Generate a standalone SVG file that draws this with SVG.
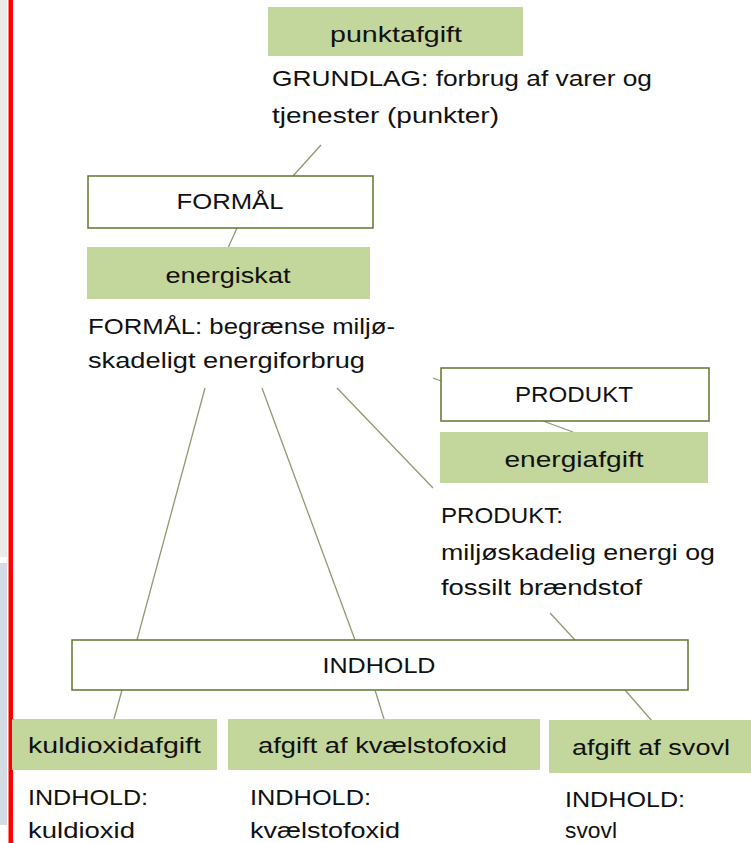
<svg xmlns="http://www.w3.org/2000/svg" width="751" height="843" viewBox="0 0 751 843">
<style>
  text { font-family: "Liberation Sans", Arial, sans-serif; font-size: 22px; fill: #111111; }
  .c { text-anchor: middle; }
  .green { fill: #c3d69b; stroke: none; }
  .white { fill: #ffffff; stroke: #5f7530; stroke-width: 1.5; }
  .conn line { stroke: #8e9a72; stroke-width: 1.3; }
</style>
<rect x="0" y="0" width="751" height="843" fill="#ffffff"/>
<rect x="0" y="0" width="7" height="557" fill="#ebebeb"/>
<rect x="0" y="563" width="7" height="262" fill="#d3dbe5"/>
<rect x="8.5" y="0" width="4.5" height="843" fill="#ff0000"/>

<g id="connectors" class="conn">
  <line x1="321" y1="145" x2="293" y2="176"/>
  <line x1="237" y1="228" x2="228" y2="248"/>
  <line x1="205" y1="388" x2="137" y2="640"/>
  <line x1="262" y1="388" x2="355" y2="640"/>
  <line x1="337" y1="388" x2="433" y2="488"/>
  <line x1="433" y1="378" x2="441" y2="381"/>
  <line x1="543" y1="421" x2="573" y2="432"/>
  <line x1="550" y1="613" x2="575" y2="640"/>
  <line x1="122" y1="690" x2="114" y2="719"/>
  <line x1="375" y1="690" x2="384" y2="719"/>
  <line x1="625" y1="690" x2="652" y2="721"/>
</g>

<g id="punktafgift">
  <rect class="green" x="268" y="7" width="255" height="49"/>
  <text class="c" x="396" y="42" textLength="132" lengthAdjust="spacingAndGlyphs">punktafgift</text>
</g>
<g id="grundlag-text">
  <text x="272" y="86" textLength="380" lengthAdjust="spacingAndGlyphs">GRUNDLAG: forbrug af varer og</text>
  <text x="272" y="123" textLength="227" lengthAdjust="spacingAndGlyphs">tjenester (punkter)</text>
</g>
<g id="formaal">
  <rect class="white" x="88" y="176" width="285" height="52"/>
  <text class="c" x="230" y="209" textLength="107" lengthAdjust="spacingAndGlyphs">FORMÅL</text>
</g>
<g id="energiskat">
  <rect class="green" x="87" y="247" width="283" height="52"/>
  <text class="c" x="228" y="283" textLength="125" lengthAdjust="spacingAndGlyphs">energiskat</text>
</g>
<g id="formaal-text">
  <text x="88" y="334" textLength="307" lengthAdjust="spacingAndGlyphs">FORMÅL: begrænse miljø-</text>
  <text x="88" y="368" textLength="277" lengthAdjust="spacingAndGlyphs">skadeligt energiforbrug</text>
</g>
<g id="produkt">
  <rect class="white" x="441" y="368" width="268" height="53"/>
  <text class="c" x="574" y="402" textLength="118" lengthAdjust="spacingAndGlyphs">PRODUKT</text>
</g>
<g id="energiafgift">
  <rect class="green" x="440" y="432" width="268" height="51"/>
  <text class="c" x="574" y="467" textLength="139" lengthAdjust="spacingAndGlyphs">energiafgift</text>
</g>
<g id="produkt-text">
  <text x="441" y="523" textLength="122" lengthAdjust="spacingAndGlyphs">PRODUKT:</text>
  <text x="441" y="560" textLength="274" lengthAdjust="spacingAndGlyphs">miljøskadelig energi og</text>
  <text x="441" y="595" textLength="201" lengthAdjust="spacingAndGlyphs">fossilt brændstof</text>
</g>
<g id="indhold">
  <rect class="white" x="72" y="640" width="616" height="50"/>
  <text class="c" x="379" y="673" textLength="113" lengthAdjust="spacingAndGlyphs">INDHOLD</text>
</g>
<g id="kuldioxidafgift">
  <rect class="green" x="12" y="719" width="205" height="51"/>
  <text x="28" y="753" textLength="173" lengthAdjust="spacingAndGlyphs">kuldioxidafgift</text>
  <text x="28" y="805" textLength="120" lengthAdjust="spacingAndGlyphs">INDHOLD:</text>
  <text x="28" y="838" textLength="107" lengthAdjust="spacingAndGlyphs">kuldioxid</text>
</g>
<g id="kvaelstofoxid">
  <rect class="green" x="228" y="719" width="312" height="51"/>
  <text x="258" y="753" textLength="249" lengthAdjust="spacingAndGlyphs">afgift af kvælstofoxid</text>
  <text x="250" y="805" textLength="121" lengthAdjust="spacingAndGlyphs">INDHOLD:</text>
  <text x="250" y="838" textLength="150" lengthAdjust="spacingAndGlyphs">kvælstofoxid</text>
</g>
<g id="svovl">
  <rect class="green" x="549" y="720" width="202" height="53"/>
  <text x="572" y="755" textLength="158" lengthAdjust="spacingAndGlyphs">afgift af svovl</text>
  <text x="565" y="807" textLength="120" lengthAdjust="spacingAndGlyphs">INDHOLD:</text>
  <text x="565" y="838" textLength="52" lengthAdjust="spacingAndGlyphs">svovl</text>
</g>
</svg>
